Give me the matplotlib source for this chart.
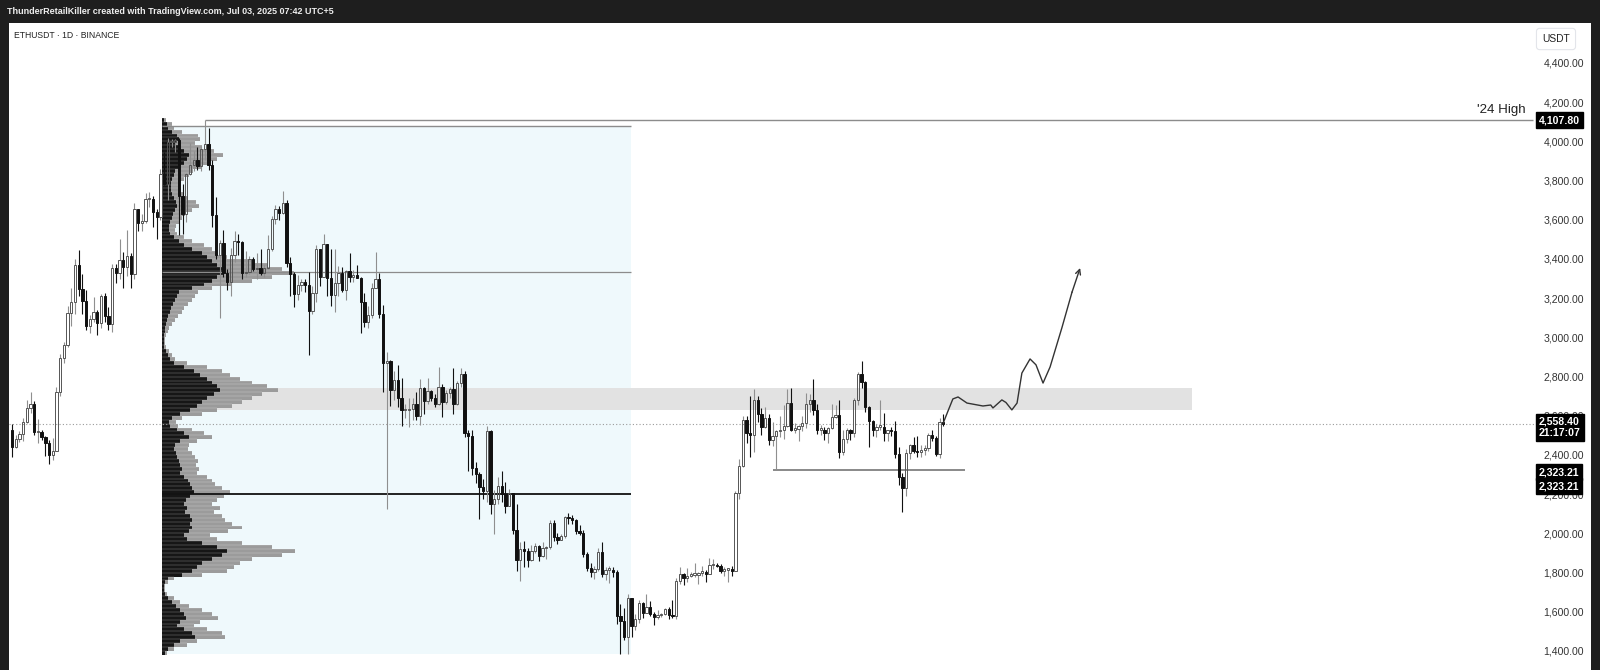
import matplotlib
matplotlib.use("Agg")
import matplotlib.pyplot as plt
import numpy as np
from matplotlib.patches import Rectangle
from matplotlib.transforms import blended_transform_factory, offset_copy

plt.rcParams['font.family'] = ['Liberation Sans', 'DejaVu Sans']

# ETHUSDT daily, 25 Oct 2024 .. 3 Jul 2025
first_open = 2525
closes = [
    # Oct
    2440, 2480, 2505, 2570, 2640, 2660, 2515,
    # Nov
    2515, 2490, 2460, 2400, 2420, 2720, 2895, 2960, 3125, 3180,
    3370, 3245, 3185, 3060, 3095, 3130, 3075, 3210, 3110, 3070,
    3355, 3330, 3395, 3360, 3415, 3325, 3655, 3585, 3595, 3705,
    # Dec
    3705, 3640, 3615, 3835, 3785, 3995, 3995, 4005, 3720, 3630,
    3835, 3880, 3905, 3875, 3960, 3985, 3880, 3625, 3420, 3480,
    3330, 3285, 3420, 3490, 3485, 3330, 3335, 3400, 3350, 3355, 3330,
    # Jan
    3355, 3450, 3605, 3655, 3635, 3685, 3380, 3325, 3220, 3265,
    3285, 3265, 3135, 3225, 3450, 3310, 3475, 3305, 3215, 3280,
    3330, 3240, 3340, 3310, 3320, 3305, 3180, 3080, 3115, 3250, 3300,
    # Feb
    3120, 2870, 2880, 2730, 2785, 2690, 2630, 2630, 2635, 2660,
    2600, 2740, 2675, 2725, 2690, 2660, 2745, 2670, 2715, 2735,
    2660, 2765, 2815, 2510, 2495, 2335, 2305, 2235,
    # Mar
    2215, 2520, 2150, 2175, 2240, 2200, 2140, 2205, 2015, 1865,
    1920, 1910, 1865, 1910, 1935, 1885, 1925, 1930, 2055, 1980,
    1965, 1985, 2085, 2080, 2070, 2010, 2000, 1895, 1825, 1805, 1820,
    # Apr
    1905, 1795, 1815, 1815, 1805, 1580, 1555, 1470, 1670, 1525,
    1565, 1645, 1595, 1625, 1590, 1575, 1585, 1590, 1615, 1585,
    1580, 1755, 1795, 1770, 1785, 1790, 1790, 1800, 1800, 1795,
    # May
    1840, 1840, 1835, 1810, 1815, 1815, 1810, 2205, 2345, 2580,
    2510, 2500, 2680, 2610, 2545, 2590, 2475, 2495, 2520, 2525,
    2550, 2665, 2530, 2535, 2550, 2565, 2660, 2680, 2630, 2530, 2530,
    # Jun
    2510, 2540, 2595, 2605, 2415, 2480, 2525, 2510, 2680, 2815,
    2770, 2645, 2575, 2525, 2545, 2545, 2510, 2525, 2520, 2405,
    2290, 2230, 2410, 2450, 2420, 2415, 2425, 2435, 2500, 2485,
    # Jul
    2405, 2570, 2558.4,
]
highs = [
    2560, 2500, 2520, 2590, 2680, 2720, 2675,
    2585, 2525, 2495, 2475, 2485, 2745, 2915, 2975, 3160, 3250,
    3400, 3445, 3325, 3240, 3115, 3205, 3140, 3220, 3225, 3155,
    3375, 3375, 3500, 3435, 3550, 3430, 3685, 3650, 3630, 3735,
    3740, 3720, 3655, 3860, 3945, 4015, 4010, 4010, 4015, 3785,
    3840, 3990, 3950, 3970, 3975, 4107.8, 4070, 3905, 3715, 3495,
    3550, 3350, 3455, 3545, 3525, 3490, 3440, 3415, 3410, 3430, 3450,
    3370, 3520, 3620, 3675, 3670, 3745, 3700, 3410, 3335, 3320,
    3300, 3300, 3335, 3260, 3470, 3450, 3525, 3450, 3450, 3450,
    3365, 3360, 3345, 3430, 3345, 3370, 3310, 3225, 3160, 3280, 3435,
    3330, 3165, 2925, 2885, 2830, 2860, 2795, 2660, 2690, 2690,
    2720, 2790, 2745, 2795, 2730, 2710, 2850, 2760, 2730, 2745,
    2845, 2775, 2845, 2830, 2530, 2530, 2365, 2315,
    2275, 2550, 2525, 2220, 2290, 2320, 2260, 2225, 2205, 2150,
    1955, 1960, 1925, 1940, 1950, 1940, 1955, 1935, 2070, 2070,
    2000, 1995, 2090, 2105, 2095, 2075, 2045, 2015, 1905, 1850, 1835,
    1925, 1955, 1830, 1835, 1830, 1815, 1640, 1620, 1690, 1670,
    1590, 1660, 1650, 1690, 1655, 1600, 1610, 1595, 1620, 1625,
    1660, 1770, 1830, 1800, 1825, 1805, 1850, 1805, 1835, 1815,
    1875, 1870, 1850, 1845, 1830, 1825, 1835, 2215, 2380, 2600,
    2600, 2700, 2735, 2700, 2640, 2645, 2610, 2570, 2525, 2600,
    2655, 2735, 2740, 2565, 2555, 2600, 2715, 2710, 2790, 2660, 2555,
    2545, 2545, 2660, 2655, 2680, 2525, 2540, 2535, 2690, 2825,
    2880, 2775, 2650, 2580, 2560, 2680, 2615, 2530, 2545, 2575,
    2440, 2310, 2430, 2455, 2490, 2495, 2450, 2450, 2510, 2525,
    2495, 2590, 2610,
]
lows = [
    2390, 2435, 2465, 2470, 2565, 2615, 2500,
    2460, 2475, 2395, 2355, 2375, 2420, 2700, 2870, 2950, 3060,
    3120, 3210, 3120, 3040, 3020, 3080, 3010, 3050, 3080, 3040,
    3030, 3280, 3300, 3250, 3315, 3250, 3300, 3545, 3545, 3585,
    3665, 3565, 3500, 3600, 3775, 3700, 3970, 3945, 3520, 3525,
    3590, 3830, 3850, 3855, 3850, 3905, 3855, 3565, 3400, 3100,
    3310, 3240, 3210, 3385, 3420, 3300, 3310, 3325, 3340, 3300, 3320,
    3310, 3350, 3440, 3580, 3600, 3630, 3360, 3210, 3155, 3190,
    3235, 3230, 2910, 3120, 3180, 3260, 3310, 3210, 3160, 3130,
    3210, 3230, 3190, 3285, 3285, 3305, 3020, 3055, 3050, 3100, 3250,
    3100, 2720, 2125, 2650, 2680, 2645, 2550, 2590, 2545, 2580,
    2580, 2555, 2610, 2660, 2675, 2645, 2655, 2595, 2660, 2690,
    2610, 2655, 2745, 2490, 2320, 2300, 2255, 2075,
    2175, 2160, 2100, 1995, 2150, 2160, 2105, 2140, 1995, 1810,
    1755, 1830, 1830, 1860, 1900, 1860, 1880, 1870, 1920, 1960,
    1945, 1965, 1975, 2050, 2050, 1995, 1990, 1880, 1810, 1780, 1765,
    1810, 1780, 1760, 1745, 1780, 1540, 1385, 1455, 1385, 1470,
    1505, 1545, 1570, 1595, 1580, 1535, 1565, 1575, 1585, 1565,
    1570, 1565, 1740, 1735, 1750, 1775, 1780, 1740, 1785, 1750,
    1795, 1820, 1830, 1800, 1785, 1750, 1785, 1810, 2175, 2340,
    2460, 2390, 2415, 2570, 2500, 2540, 2450, 2445, 2330, 2490,
    2480, 2545, 2520, 2510, 2470, 2520, 2540, 2620, 2605, 2505, 2500,
    2475, 2460, 2535, 2590, 2385, 2400, 2460, 2475, 2490, 2655,
    2740, 2620, 2440, 2495, 2490, 2530, 2470, 2470, 2495, 2385,
    2245, 2110, 2190, 2380, 2410, 2390, 2390, 2400, 2420, 2470,
    2395, 2385, 2550,
]

# visible-range volume profile (20 USDT rows, top to bottom), total and sell part
vp_prices = np.arange(4110, 1380, -20)
vp_total = [
    4, 10, 12, 20, 36, 38, 33, 40, 52, 61,
    55, 48, 40, 31, 27, 22, 18, 17, 19, 21,
    26, 34, 37, 30, 23, 20, 17, 14, 13, 15,
    22, 30, 42, 50, 55, 65, 90, 105, 120, 132,
    110, 90, 70, 50, 36, 33, 30, 26, 22, 20,
    16, 13, 10, 7, 6, 4, 3, 3, 4, 7,
    10, 13, 25, 45, 60, 68, 78, 90, 105, 116,
    100, 90, 80, 70, 55, 40, 20, 14, 16, 30,
    42, 50, 35, 27, 26, 30, 33, 36, 34, 37,
    35, 45, 50, 53, 60, 68, 62, 55, 50, 58,
    52, 60, 63, 70, 80, 66, 48, 55, 80, 110,
    133, 120, 90, 78, 72, 65, 40, 12, 6, 3,
    3, 5, 12, 18, 27, 40, 50, 56, 38, 32,
    45, 60, 63, 35, 25, 12, 5,
]
vp_sell = [
    2, 5, 6, 10, 15, 17, 14, 18, 22, 27,
    25, 22, 18, 13, 12, 10, 9, 9, 9, 10,
    12, 14, 15, 13, 11, 10, 8, 7, 7, 8,
    12, 17, 22, 30, 40, 45, 50, 55, 60, 62,
    55, 50, 42, 30, 17, 15, 13, 11, 9, 8,
    6, 5, 4, 3, 3, 2, 2, 2, 2, 4,
    6, 8, 12, 22, 32, 38, 45, 50, 55, 58,
    52, 45, 40, 35, 28, 18, 10, 7, 8, 15,
    22, 27, 18, 13, 12, 14, 15, 17, 18, 20,
    18, 22, 26, 28, 30, 32, 28, 24, 22, 25,
    23, 28, 30, 28, 30, 27, 22, 25, 40, 55,
    65, 60, 50, 40, 35, 30, 20, 6, 3, 2,
    2, 3, 6, 10, 14, 18, 22, 24, 18, 15,
    22, 30, 33, 18, 12, 6, 3,
]

# drawn levels
high_24 = 4107.80
last_price = 2558.40
support = 2323.21
poc_line = 3335
vah_line = 4080
val_line = 2200
zone = (2630, 2742)
# hand-drawn projection (bar index, price)
proj_x = [251, 252.3, 253.6, 255.0, 257.4, 261.7, 263.8, 264.4, 266.8, 267.9,
          269.5, 270.9, 272.2, 274.4, 276.0, 277.9, 279.8, 283.0, 285.7, 287.9]
proj_y = [2563, 2625, 2686, 2696, 2665, 2650, 2655, 2640, 2681, 2668,
          2630, 2665, 2818, 2890, 2860, 2767, 2849, 3050, 3230, 3354]
price_ticks = list(range(1400, 4401, 200))

W, H = 1600, 670
fig = plt.figure(figsize=(16, 6.7), dpi=100, facecolor="#1e1e1e")
panel = fig.add_axes([9 / W, 0, (1591 - 9) / W, (670 - 23) / H])
panel.set_facecolor("white")
panel.set_xticks([])
panel.set_yticks([])
for s in panel.spines.values():
    s.set_visible(False)

ax = fig.add_axes([9 / W, 0, (1535 - 9) / W, (670 - 23) / H])
ax.set_facecolor("none")
ax.set_xlim(-0.8, 410.5)
ax.set_ylim(1303, 4604)
for s in ax.spines.values():
    s.set_visible(False)
ax.set_xticks([])

closes = np.array(closes, dtype=float)
highs = np.array(highs, dtype=float)
lows = np.array(lows, dtype=float)
opens = np.concatenate([[first_open], closes[:-1]])
x = np.arange(len(closes))
up = closes >= opens

vp_left = 40.4
vp_right = 166.8
vp_scale = 35.8 / max(vp_total)

# light blue profile range, gray zone
ax.add_patch(Rectangle((vp_left, 1385), vp_right - vp_left, vah_line - 1385,
                       facecolor="#eff9fc", edgecolor="none", zorder=0.5))
ax.add_patch(Rectangle((vp_left, zone[0]), 318 - vp_left, zone[1] - zone[0],
                       facecolor="#e2e2e2", edgecolor="none", zorder=1))

# volume profile
ax.barh(vp_prices, np.array(vp_total) * vp_scale, height=20, left=vp_left,
        color="#9b9b9b", edgecolor="none", zorder=2)
ax.barh(vp_prices, np.array(vp_sell) * vp_scale, height=20, left=vp_left,
        color="#161616", edgecolor="none", zorder=2.1)
ax.hlines(vp_prices + 10, vp_left, vp_left + np.array(vp_total) * vp_scale,
          color="white", lw=0.3, alpha=0.5, zorder=2.2)

# levels
ax.hlines(vah_line, vp_left, vp_right, color="#8c8c8c", lw=1.0, zorder=2.5)
ax.hlines(poc_line, vp_left, vp_right, color="#8c8c8c", lw=0.9, zorder=2.5)
ax.hlines(val_line, vp_left, vp_right, color="#111111", lw=1.3, zorder=2.5)
ax.hlines(high_24, 52, 410, color="#8c8c8c", lw=1.0, zorder=2.5)
ax.hlines(support, 205, 257, color="#6a6a6a", lw=1.1, zorder=2.5)
ax.axhline(last_price, color="#9a9a9a", lw=0.8, ls=(0, (1, 2)), zorder=2.4)

# candles: hollow up bodies, filled down bodies
body_lo = np.minimum(opens, closes)
body_h = np.maximum(np.abs(closes - opens), 6)
body_hi = body_lo + body_h
for m, wc in ((up, "#8f8f8f"), (~up, "#111111")):
    ax.vlines(x[m], lows[m], body_lo[m], color=wc, lw=0.8, zorder=3)
    ax.vlines(x[m], body_hi[m], highs[m], color=wc, lw=0.8, zorder=3)
ax.bar(x[up], body_h[up], bottom=body_lo[up], width=0.62, facecolor="none",
       edgecolor="#555555", lw=0.7, zorder=4)
ax.bar(x[~up], body_h[~up], bottom=body_lo[~up], width=0.62, facecolor="#111111",
       edgecolor="#111111", lw=0.7, zorder=4)

# projection
ax.plot(proj_x[:-1], proj_y[:-1], color="#333333", lw=1.0, zorder=5)
ax.annotate("", xy=(proj_x[-1], proj_y[-1]), xytext=(proj_x[-2], proj_y[-2]),
            arrowprops=dict(arrowstyle="->", color="#333333", lw=1.0,
                            shrinkA=0, shrinkB=0, mutation_scale=9), zorder=5)

ax.text(408, high_24 + 22, "'24 High", ha="right", va="bottom", fontsize=9.6,
        color="#222222")

# right price scale
ax.yaxis.tick_right()
ax.set_yticks(price_ticks)
ax.set_yticklabels([f"{v:,.2f}" for v in price_ticks])
ax.tick_params(axis="y", length=0, pad=6, labelsize=7.6, labelcolor="#333333")

tr = blended_transform_factory(ax.transAxes, ax.transData)
box = dict(boxstyle="square,pad=0.28", facecolor="black", edgecolor="black")
ax.text(1.0, high_24, "4,107.80", transform=offset_copy(tr, fig, x=4, units="dots"),
        ha="left", va="center", fontsize=7.6, fontweight="bold", color="white",
        bbox=box, zorder=10)
ax.text(1.0, last_price, f"{last_price:,.2f}\n21:17:07",
        transform=offset_copy(tr, fig, x=4, y=7, units="dots"),
        ha="left", va="top", fontsize=7.6, fontweight="bold", color="white",
        linespacing=1.15, bbox=box, zorder=10)
ax.text(1.0, support, f"{support:,.2f}",
        transform=offset_copy(tr, fig, x=4, y=-2, units="dots"),
        ha="left", va="center", fontsize=7.6, fontweight="bold", color="white",
        bbox=box, zorder=10)
ax.text(1.0, support, f"{support:,.2f}",
        transform=offset_copy(tr, fig, x=4, y=-16, units="dots"),
        ha="left", va="center", fontsize=7.6, fontweight="bold", color="white",
        bbox=box, zorder=10)

fig.text(1556 / W, 1 - 39 / H, "USDT", ha="center", va="center", fontsize=7.4,
         color="#222222",
         bbox=dict(boxstyle="round,pad=0.55,rounding_size=0.3", facecolor="white",
                   edgecolor="#e3e5ea", lw=0.8))

# header and symbol line
fig.text(7 / W, 1 - 12 / H,
         "ThunderRetailKiller created with TradingView.com, Jul 03, 2025 07:42 UTC+5",
         ha="left", va="center", fontsize=6.5, color="#eeeeee", fontweight="bold")
fig.text(14 / W, 1 - 36 / H, "ETHUSDT \u00b7 1D \u00b7 BINANCE", ha="left",
         va="center", fontsize=6.2, color="#222222")

fig.savefig("out.png", dpi=100, facecolor=fig.get_facecolor())
